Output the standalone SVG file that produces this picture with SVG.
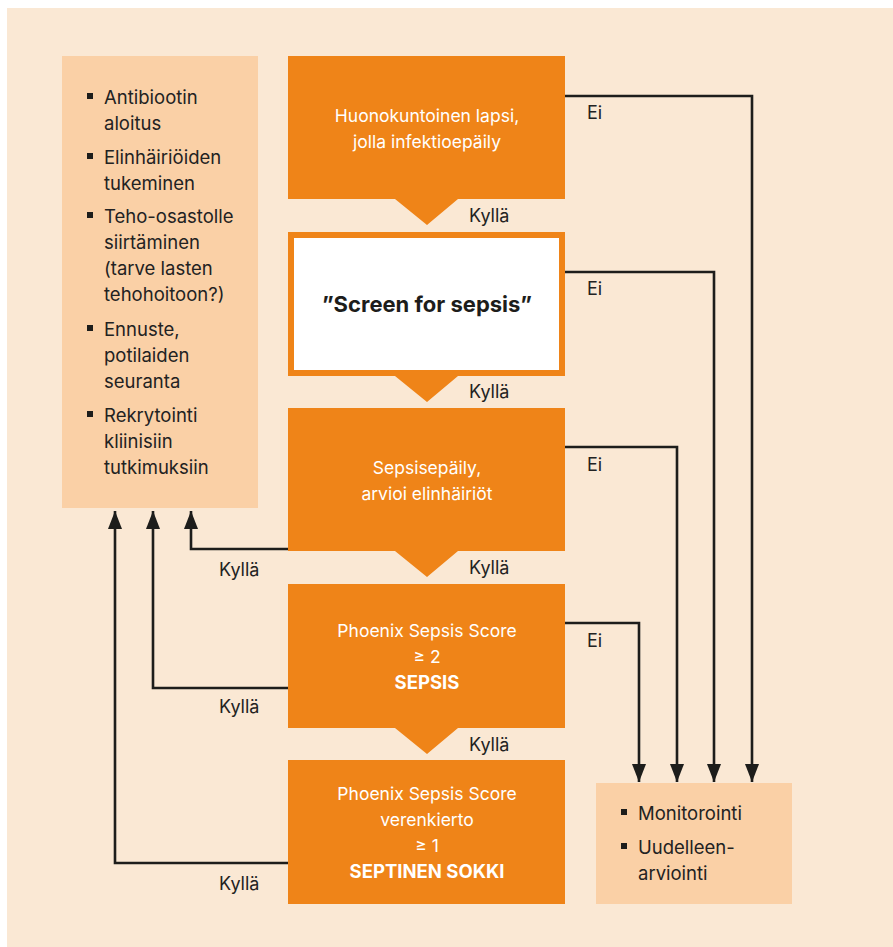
<svg xmlns="http://www.w3.org/2000/svg" width="893" height="947" viewBox="0 0 893 947">
<style>
.bg{fill:#FAE8D4}
.side{fill:#FAD0A6}
.box{fill:#EF8418}
.wt{font-family:Inter,"Liberation Sans",sans-serif;font-size:17.5px;fill:#FFFFFF;text-anchor:middle}
.wtb{font-weight:bold;font-size:18.5px}
.dt{font-family:Inter,"Liberation Sans",sans-serif;font-size:18px;fill:#222222}
.lt{font-family:Inter,"Liberation Sans",sans-serif;font-size:18.5px;fill:#222222}
.bul{fill:#1d1d1b}
.conn{fill:none;stroke:#1d1d1b;stroke-width:2.6}
</style>
<defs>
<marker id="ah" markerUnits="userSpaceOnUse" markerWidth="14" markerHeight="19" refX="7" refY="0" orient="auto-start-reverse" viewBox="0 0 14 19" overflow="visible">
<path d="M0,18 L7,0 L14,18 Z" fill="#1d1d1b" transform="rotate(90 7 0)"/>
</marker>
</defs>
<rect class="bg" x="7" y="8" width="886" height="939"/>

<g id="actions">
<rect class="side" x="62" y="56" width="196" height="452"/>
<rect class="bul" x="87" y="93" width="6" height="6"/>
<text class="lt" x="104" y="104">Antibiootin</text>
<text class="lt" x="104" y="130">aloitus</text>
<rect class="bul" x="87" y="153" width="6" height="6"/>
<text class="lt" x="104" y="164">Elinhäiriöiden</text>
<text class="lt" x="104" y="190">tukeminen</text>
<rect class="bul" x="87" y="212" width="6" height="6"/>
<text class="lt" x="104" y="223">Teho-osastolle</text>
<text class="lt" x="104" y="249">siirtäminen</text>
<text class="lt" x="104" y="275">(tarve lasten</text>
<text class="lt" x="104" y="301">tehohoitoon?)</text>
<rect class="bul" x="87" y="325" width="6" height="6"/>
<text class="lt" x="104" y="336">Ennuste,</text>
<text class="lt" x="104" y="362">potilaiden</text>
<text class="lt" x="104" y="388">seuranta</text>
<rect class="bul" x="87" y="411" width="6" height="6"/>
<text class="lt" x="104" y="422">Rekrytointi</text>
<text class="lt" x="104" y="448">kliinisiin</text>
<text class="lt" x="104" y="474">tutkimuksiin</text>
</g>

<g id="n1">
<path class="box" d="M288,56 H565 V199 H458 L427,225 L395,199 H288 Z"/>
<text class="wt" x="427" y="122">Huonokuntoinen lapsi,</text>
<text class="wt" x="427" y="148">jolla infektioepäily</text>
</g>

<g id="n2">
<path class="box" d="M288,232 H565 V376 H458 L427,402 L395,376 H288 Z"/>
<rect x="294" y="238" width="265" height="132" fill="#FFFFFF"/>
<text x="427" y="312" text-anchor="middle" font-family="Inter,'Liberation Sans',sans-serif" font-size="22" font-weight="bold" fill="#1d1d1b">”Screen for sepsis”</text>
</g>

<g id="n3">
<path class="box" d="M288,408 H565 V551 H458 L427,577 L395,551 H288 Z"/>
<text class="wt" x="427" y="474">Sepsisepäily,</text>
<text class="wt" x="427" y="500">arvioi elinhäiriöt</text>
</g>

<g id="n4">
<path class="box" d="M288,584 H565 V728 H458 L427,754 L395,728 H288 Z"/>
<text class="wt" x="427" y="637">Phoenix Sepsis Score</text>
<text class="wt" x="427" y="663">≥ 2</text>
<text class="wt wtb" x="427" y="689">SEPSIS</text>
</g>

<g id="n5">
<rect class="box" x="288" y="760" width="277" height="144"/>
<text class="wt" x="427" y="800">Phoenix Sepsis Score</text>
<text class="wt" x="427" y="826">verenkierto</text>
<text class="wt" x="427" y="852">≥ 1</text>
<text class="wt wtb" x="427" y="878">SEPTINEN SOKKI</text>
</g>

<g id="monitor">
<rect class="side" x="596" y="783" width="196" height="121"/>
<rect class="bul" x="621" y="809" width="6" height="6"/>
<text class="lt" x="638" y="820">Monitorointi</text>
<rect class="bul" x="621" y="843" width="6" height="6"/>
<text class="lt" x="638" y="854">Uudelleen-</text>
<text class="lt" x="638" y="880">arviointi</text>
</g>

<g id="connectors">
<path class="conn" d="M565,96 H752 V782" marker-end="url(#ah)"/>
<path class="conn" d="M565,272 H714 V782" marker-end="url(#ah)"/>
<path class="conn" d="M565,447 H677 V782" marker-end="url(#ah)"/>
<path class="conn" d="M565,623 H639 V782" marker-end="url(#ah)"/>
<path class="conn" d="M288,549 H191 V511" marker-end="url(#ah)"/>
<path class="conn" d="M288,688 H153 V511" marker-end="url(#ah)"/>
<path class="conn" d="M288,863 H115 V511" marker-end="url(#ah)"/>
</g>

<g id="labels">
<text class="dt" x="587" y="119">Ei</text>
<text class="dt" x="587" y="295">Ei</text>
<text class="dt" x="587" y="471">Ei</text>
<text class="dt" x="587" y="647">Ei</text>
<text class="dt" x="469" y="222">Kyllä</text>
<text class="dt" x="469" y="398">Kyllä</text>
<text class="dt" x="469" y="574">Kyllä</text>
<text class="dt" x="469" y="751">Kyllä</text>
<text class="dt" x="219" y="576">Kyllä</text>
<text class="dt" x="219" y="713">Kyllä</text>
<text class="dt" x="219" y="890">Kyllä</text>
</g>
</svg>
